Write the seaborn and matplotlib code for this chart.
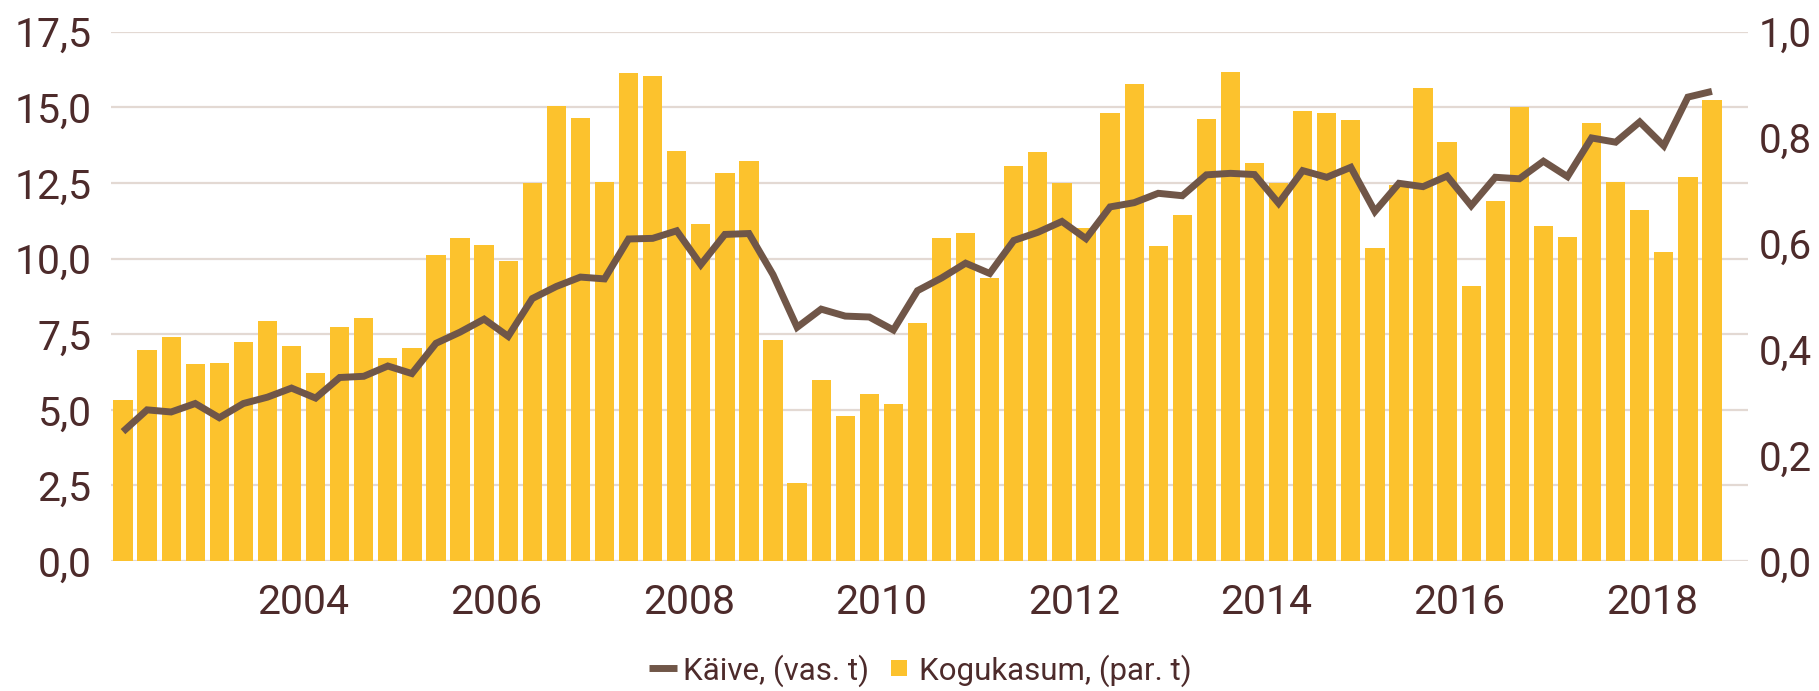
import numpy as np
import pandas as pd
import matplotlib
matplotlib.use("Agg")
import matplotlib.pyplot as plt
import seaborn as sns
from matplotlib.lines import Line2D

# ---- data (quarterly, 2002Q1 .. 2018Q3) ----
quarters = [f"{y}Q{q}" for y in range(2002, 2019) for q in range(1, 5)][:67]

# Käive (left axis)
kaive = [4.28, 5.00, 4.93, 5.21, 4.74, 5.21, 5.42, 5.72, 5.39, 6.07,
         6.11, 6.45, 6.20, 7.20, 7.57, 8.00, 7.43, 8.68, 9.08, 9.39,
         9.33, 10.65, 10.67, 10.92, 9.80, 10.80, 10.83, 9.47, 7.73, 8.33,
         8.10, 8.07, 7.64, 8.94, 9.36, 9.85, 9.51, 10.60, 10.87, 11.23,
         10.66, 11.71, 11.85, 12.16, 12.08, 12.77, 12.82, 12.78, 11.83, 12.91,
         12.69, 13.02, 11.56, 12.49, 12.38, 12.73, 11.75, 12.69, 12.64, 13.22,
         12.71, 13.99, 13.85, 14.52, 13.73, 15.34, 15.53]

# Kogukasum (right axis)
kogukasum = [0.305, 0.398, 0.423, 0.372, 0.375, 0.414, 0.454, 0.406, 0.355, 0.443,
             0.460, 0.383, 0.402, 0.579, 0.611, 0.598, 0.567, 0.714, 0.859, 0.837,
             0.717, 0.922, 0.917, 0.774, 0.637, 0.733, 0.756, 0.417, 0.148, 0.343,
             0.275, 0.316, 0.296, 0.449, 0.610, 0.619, 0.535, 0.747, 0.773, 0.714,
             0.629, 0.846, 0.902, 0.595, 0.654, 0.836, 0.924, 0.753, 0.715, 0.850,
             0.846, 0.834, 0.591, 0.711, 0.893, 0.791, 0.520, 0.680, 0.857, 0.633,
             0.612, 0.827, 0.717, 0.663, 0.584, 0.726, 0.871]

year_ticks = [2002, 2004, 2006, 2008, 2010, 2012, 2014, 2016, 2018]
year_labels = ["", "2004", "2006", "2008", "2010", "2012", "2014", "2016", "2018"]
left_ticks = [0.0, 2.5, 5.0, 7.5, 10.0, 12.5, 15.0, 17.5]
right_ticks = [0.0, 0.2, 0.4, 0.6, 0.8, 1.0]

# ---- style ----
sns.set_style("white")
plt.rcParams['font.family'] = ['Roboto', 'DejaVu Sans']
TXT = "#4d2b2b"
GRID = "#e3d9d3"
BAR = "#fcc22d"
LINE = "#705648"
TICK = "#8a7470"

df = pd.DataFrame({"q": quarters, "idx": np.arange(len(quarters)),
                   "kaive": kaive, "kogukasum": kogukasum})

fig = plt.figure(figsize=(18.19, 6.91), dpi=100)
ax1 = fig.add_axes([0.061, 0.188, 0.9, 0.766])
ax2 = ax1.twinx()

# bars on right axis
sns.barplot(data=df, x="idx", y="kogukasum", ax=ax2, color=BAR,
            width=0.8, saturation=1, linewidth=0, order=list(range(len(quarters))))
# line on left axis
sns.lineplot(data=df, x="idx", y="kaive", ax=ax1, color=LINE, linewidth=5.0,
             solid_joinstyle="miter", solid_capstyle="butt")

ax1.set_zorder(ax2.get_zorder() + 1)
ax1.patch.set_visible(False)

ax1.set_ylim(0, 17.5)
ax2.set_ylim(0, 1.0)

def fmt(v, nd):
    return f"{v:.{nd}f}".replace(".", ",")

ax1.set_yticks(left_ticks)
ax1.set_yticklabels([fmt(v, 1) for v in left_ticks])
ax2.set_yticks(right_ticks)
ax2.set_yticklabels([fmt(v, 1) for v in right_ticks])

# gridlines (aligned with left ticks) drawn on right axis, behind bars
ax2.yaxis.remove_overlapping_locs = False
ax2.set_yticks([v / 17.5 for v in left_ticks], minor=True)
ax2.grid(which="minor", axis="y", color=GRID, linewidth=1.6)
ax2.grid(which="major", axis="y", visible=False)
ax2.set_axisbelow(True)
ax2.tick_params(axis="y", which="minor", length=0)

xt = [(y - 2002) * 4 - 0.5 for y in year_ticks]
ax1.set_xticks(xt)
ax1.set_xticklabels(year_labels)
ax1.set_xlim(-0.5, 67.5)

for ax in (ax1, ax2):
    for s in ax.spines.values():
        s.set_visible(False)
    ax.set_xlabel("")
    ax.set_ylabel("")

ax1.tick_params(axis="x", length=10, width=1.2, color=TICK, labelsize=29.5,
                labelcolor=TXT, pad=6)
ax1.tick_params(axis="y", length=0, labelsize=29.5, labelcolor=TXT, pad=14)
ax2.tick_params(axis="y", which="major", length=0, labelsize=29, labelcolor=TXT, pad=8)

handles = [Line2D([], [], color=LINE, linewidth=5.0, solid_capstyle="butt",
                  label="Käive, (vas. t)"),
           Line2D([], [], color=BAR, linestyle="none", marker="s", markersize=11,
                  markeredgewidth=0, label="Kogukasum, (par. t)")]
leg = fig.legend(handles=handles, loc="center", bbox_to_anchor=(0.506, 0.03),
                 ncol=2, frameon=False, fontsize=22.5, handlelength=0.9,
                 handletextpad=0.2, columnspacing=0.5)
for t in leg.get_texts():
    t.set_color(TXT)

fig.savefig("out.png", dpi=100, facecolor="white")
